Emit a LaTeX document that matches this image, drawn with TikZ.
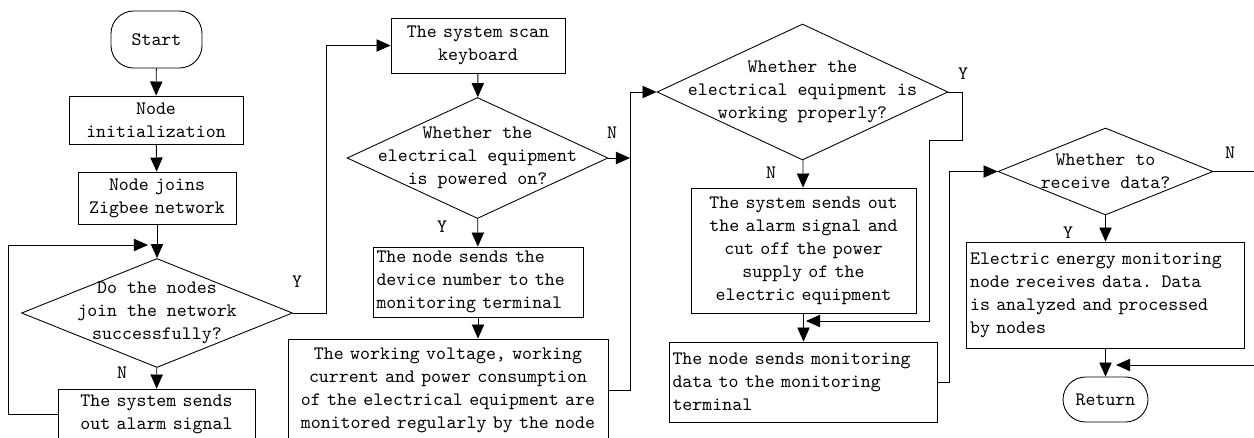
\documentclass[tikz,border=0pt]{standalone}
\usepackage{fontspec}
\usepackage{tikz}
\usetikzlibrary{arrows.meta,shapes.geometric,calc}

\begin{document}
\begin{tikzpicture}[x=0.02cm,y=-0.02cm,
  font=\ttfamily\fontsize{10.8}{13.1}\selectfont,
  proc/.style={draw, rectangle, line width=0.5pt, inner xsep=2pt, inner ysep=0pt},
  term/.style={draw, rectangle, rounded corners=0.45cm, line width=0.5pt, inner sep=0pt},
  decision/.style={draw, diamond, line width=0.5pt, inner sep=0pt},
  dtext/.style={align=center, inner sep=0pt},
  yn/.style={inner sep=0pt},
  flow/.style={line width=0.5pt, -{Triangle[length=8pt,width=7pt]}},
  wire/.style={line width=0.5pt}]
\useasboundingbox (0,0) rectangle (1254,437);
\clip (0,0) rectangle (1254,437);

\node[term, minimum width=1.82cm, minimum height=1.14cm] (start) at (156.5,39.5) {Start};
\node[proc, minimum width=3.48cm, minimum height=0.96cm, text width=3.34cm, align=center] (init) at (156,120) {Node\\initialization};
\node[proc, minimum width=3.16cm, minimum height=1.04cm, text width=3.02cm, align=center] (zig) at (157,198) {Node joins\\Zigbee network};
\node[decision, minimum width=5.42cm, minimum height=2.18cm,
  label={[dtext]center:Do the nodes\\join the network\\successfully?}] (d1) at (157,313) {};
\node[proc, minimum width=3.94cm, minimum height=1.0cm, text width=3.8cm, align=center] (alarm1) at (156.5,414) {The system sends\\out alarm signal};

\node[proc, minimum width=3.48cm, minimum height=1.1cm, text width=3.34cm, align=center] (scan) at (478,45.5) {The system scan\\keyboard};
\node[decision, minimum width=5.22cm, minimum height=2.42cm,
  label={[dtext]center:Whether the\\electrical equipment\\is powered on?}] (d2) at (477.5,158) {};
\node[proc, minimum width=4.2cm, minimum height=1.4cm, text width=4.06cm, align=left] (dev) at (478,282) {The node sends the\\device number to the\\monitoring terminal};
\node[proc, minimum width=6.4cm, minimum height=2.04cm, text width=6.26cm, align=center] (big) at (448,390) {The working voltage, working\\current and power consumption\\of the electrical equipment are\\monitored regularly by the node};

\node[decision, minimum width=5.82cm, minimum height=2.72cm,
  label={[dtext]center:Whether the\\electrical equipment is\\working properly?}] (d3) at (802.5,92) {};
\node[proc, minimum width=4.5cm, minimum height=2.5cm, text width=4.36cm, align=center] (alarm2) at (803.5,250.5) {The system sends out\\the alarm signal and\\cut off the power\\supply of the\\electric equipment};
\node[proc, minimum width=5.36cm, minimum height=1.6cm, text width=5.22cm, align=left] (mon) at (803,382) {The node sends monitoring\\data to the monitoring\\terminal};

\node[decision, minimum width=4.3cm, minimum height=1.74cm,
  label={[dtext]center:Whether to\\receive data?}] (d4) at (1105.5,171.5) {};
\node[proc, minimum width=5.56cm, minimum height=2.12cm, text width=5.42cm, align=left] (rx) at (1105.5,295) {Electric energy monitoring\\node receives data. Data\\is analyzed and processed\\by nodes};
\node[term, minimum width=1.7cm, minimum height=0.9cm] (ret) at (1105.5,399.5) {Return};

\node[yn] (y1) at (297,282) {Y};
\node[yn] (n1) at (122,373) {N};
\node[yn] (n2) at (612,133) {N};
\node[yn] (y2) at (442,227) {Y};
\node[yn] (n3) at (771,173) {N};
\node[yn] (y3) at (963,74) {Y};
\node[yn] (n4) at (1230,153) {N};
\node[yn] (y4) at (1068,233) {Y};

\coordinate (lp) at (148,245);
\coordinate (j2) at (630,158);
\coordinate (j3) at (806,321);
\coordinate (j4) at (1116,365);

\draw[flow] (start) -- (init);
\draw[flow] (init) -- (zig);
\draw[flow] (zig) -- (d1);
\draw[flow] (d1) -- (alarm1);
\draw[flow] (alarm1.west) -- ++(-49,0) |- (lp);
\draw[flow] (d1.east) -- ++(34,0) |- (scan.west);
\draw[flow] (scan) -- (d2);
\draw[flow] (d2) -- (dev);
\draw[flow] (dev.south) -- (dev.south |- big.north);
\draw[flow] (d2.east) -- (j2);
\draw[flow] (big.east) -- ++(22,0) |- (d3.west);
\draw[flow] (d3) -- (alarm2);
\draw[flow] (alarm2.south) -- (alarm2.south |- mon.north);
\draw[flow] (d3.east) -- ++(14,0) -- ++(0,48) -- ++(-33,0) |- (j3);
\draw[flow] (mon.east) -- ++(12,0) |- (d4.west);
\draw[flow] (d4) -- (rx);
\draw[flow] (rx) -- (ret);
\draw[flow] (d4.east) -- ++(60,0) |- (j4);
\end{tikzpicture}
\end{document}
